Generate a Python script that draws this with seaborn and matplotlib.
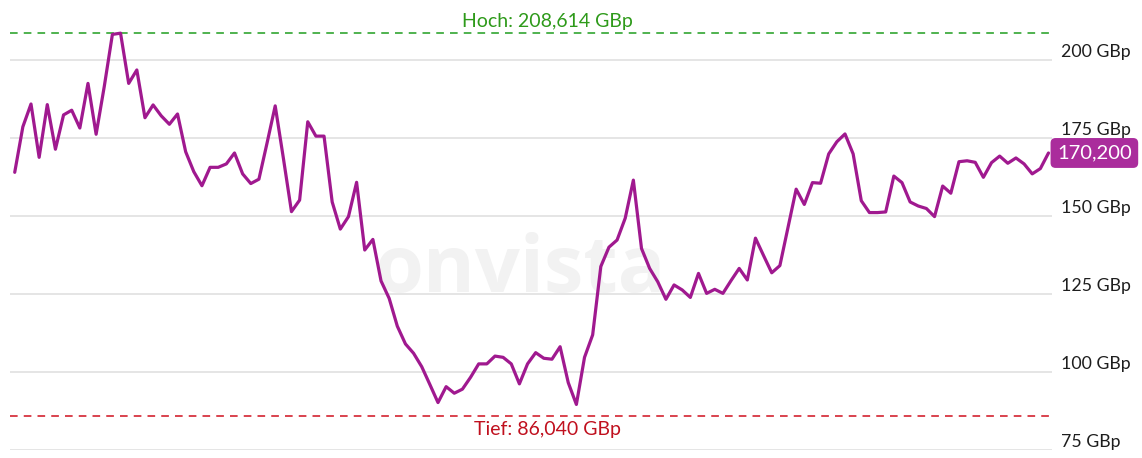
import numpy as np
import pandas as pd
import matplotlib
matplotlib.use("Agg")
import matplotlib.pyplot as plt
import matplotlib.transforms as mtransforms
import seaborn as sns

# Kursverlauf (GBp), one value per trading day
prices = [
    164.0, 178.6, 185.9, 168.8, 185.7, 171.4, 182.4, 183.9, 178.2, 192.5,
    176.2, 191.5, 208.2, 208.6, 192.5, 196.8, 181.5, 185.6, 182.1, 179.4,
    182.7, 170.6, 164.2, 159.7, 165.6, 165.6, 166.7, 170.2, 163.5, 160.4,
    161.8, 173.4, 185.3, 168.6, 151.4, 155.1, 180.2, 175.6, 175.6, 154.5,
    145.8, 149.8, 160.8, 139.1, 142.5, 129.2, 123.6, 114.7, 109.0, 106.0,
    101.7, 96.0, 90.2, 95.3, 93.2, 94.5, 98.3, 102.6, 102.6, 105.1,
    104.7, 102.6, 96.2, 102.6, 106.2, 104.4, 104.1, 108.1, 96.6, 89.6,
    104.7, 111.9, 133.8, 140.0, 142.3, 149.3, 161.5, 139.6, 133.2, 128.9,
    123.3, 127.9, 126.3, 123.9, 131.6, 125.2, 126.5, 125.2, 129.3, 133.2,
    129.5, 142.9, 137.3, 131.8, 134.1, 146.3, 158.6, 153.7, 160.7, 160.5,
    169.9, 173.8, 176.3, 169.9, 154.9, 151.1, 151.1, 151.3, 162.8, 160.7,
    154.5, 153.2, 152.4, 149.8, 159.6, 157.3, 167.4, 167.7, 167.2, 162.4,
    167.1, 169.2, 166.9, 168.6, 166.7, 163.5, 165.2, 170.2,
]
high_value = 208.614
low_value = 86.040
last_label = "170,200"
y_ticks = [75, 100, 125, 150, 175, 200]
y_tick_labels = [f"{t} GBp" for t in y_ticks]

df = pd.DataFrame({"day": np.arange(len(prices)), "price": prices})

sns.set_style("white")
plt.rcParams["font.family"] = ["Lato", "DejaVu Sans"]

fig = plt.figure(figsize=(11.42, 4.58), dpi=100)
ax = fig.add_axes([10 / 1142, 8 / 458, 1042 / 1142, 436.8 / 458])

# watermark
ax.text(62.1, 125.6, "onvista", ha="center", va="baseline", fontsize=57,
        fontweight="bold", color="#f2f2f2", zorder=0, family=["Open Sans", "DejaVu Sans"])

for t in y_ticks:
    ax.axhline(t, color="#e5e5e5", lw=1.4, zorder=1)

sns.lineplot(data=df, x="day", y="price", ax=ax, color="#a0198f", lw=2.3, zorder=3)

ax.axhline(high_value, color="#1f9e1f", lw=1.1, ls=(0, (5, 4)), zorder=2)
ax.axhline(low_value, color="#d0101e", lw=1.1, ls=(0, (5, 4)), zorder=2)
ax.text(65.5, 212.3, f"Hoch: {high_value:.3f} GBp".replace(".", ","), ha="center", va="center",
        fontsize=14, color="#2e9a1a", clip_on=False)
ax.text(65.5, 81.6, f"Tief: {low_value:.3f} GBp".replace(".", ","), ha="center", va="center",
        fontsize=14, color="#c0101e", clip_on=False)

ax.set_xlim(-0.58, 127.43)
ax.set_ylim(75, 215)
ax.set_xticks([])
ax.set_xlabel("")
ax.set_ylabel("")
ax.yaxis.tick_right()
ax.set_yticks(y_ticks)
ax.set_yticklabels(y_tick_labels, fontsize=12.8, color="#1e1e1e")
ax.tick_params(axis="y", length=0, pad=6.5)
shift = mtransforms.ScaledTranslation(0, 10 / 100, fig.dpi_scale_trans)
for lbl in ax.get_yticklabels():
    lbl.set_transform(lbl.get_transform() + shift)
    lbl.set_ha("left")
for s in ax.spines.values():
    s.set_visible(False)

# last price badge
ax.annotate(last_label, xy=(1.0, prices[-1]), xycoords=("axes fraction", "data"),
            xytext=(3.6, 0), textcoords="offset points", ha="left", va="center",
            fontsize=14.5, color="white",
            bbox=dict(boxstyle="round,pad=0.32,rounding_size=0.25", fc="#aa2c9c", ec="none"),
            annotation_clip=False)

fig.savefig("out.png", dpi=100)
